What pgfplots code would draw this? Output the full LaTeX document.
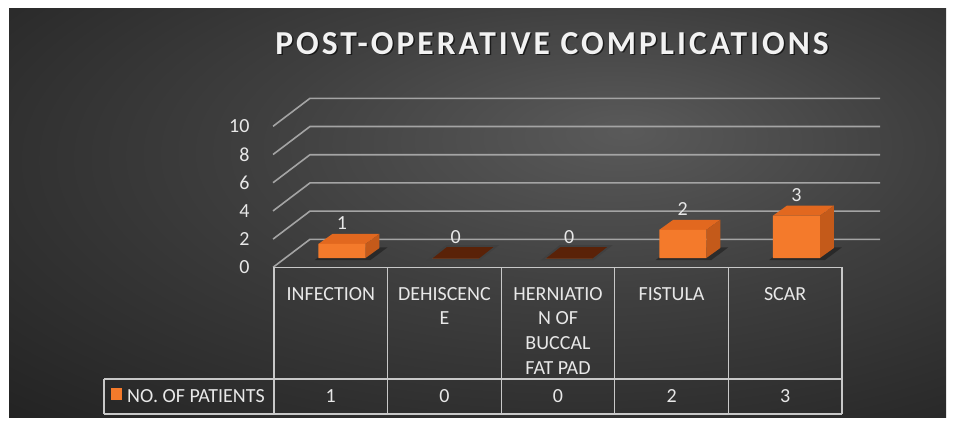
\documentclass[border=0pt]{standalone}
\usepackage{pgfplots}
\pgfplotsset{compat=1.18}
\usepackage{fontspec}
\setmainfont{Carlito}
\newfontfamily\titlefont[LetterSpace=9]{Carlito}
\definecolor{barfront}{HTML}{F47A2B}
\definecolor{bartop}{HTML}{E2681F}
\definecolor{barside}{HTML}{C45A1A}
\definecolor{zerobar}{HTML}{5A2208}
\definecolor{gridc}{HTML}{A4A4A4}
\definecolor{tablec}{HTML}{C8C8C8}
\definecolor{txt}{HTML}{E8E8E8}
\definecolor{bgA}{HTML}{5A5A5A}
\definecolor{bgB}{HTML}{3F3F3F}
\definecolor{bgC}{HTML}{1F1F1F}
\pgfdeclareradialshading{bgshade}{\pgfpoint{8bp}{10bp}}{color(0bp)=(bgA); color(18bp)=(bgB); color(45bp)=(bgC); color(80bp)=(bgC)}
\newcommand\tf{\fontsize{20}{24}\selectfont}
\begin{document}
\begin{tikzpicture}
\begin{axis}[
  x=113.6pt, y=14.1pt,
  xmin=-0.6, xmax=4.8, ymin=-0.7, ymax=12,
  hide axis, clip=false,
  /pgf/number format/assume math mode=true,
]
% page and background
\fill[white] (axis cs:-3.0106,-11.986) rectangle (axis cs:5.3961,18.298);
\shade[shading=bgshade] (axis cs:-2.9313,-11.277) rectangle (axis cs:5.3169,17.730);
% gridlines (back wall) with diagonals to the front
\draw[gridc, line width=1.6pt] (axis cs:-0.607,-0.66) -- (axis cs:-0.2817,1.326) -- (axis cs:4.736,1.326);
\draw[gridc, line width=1.6pt] (axis cs:-0.607,1.34) -- (axis cs:-0.2817,3.326) -- (axis cs:4.736,3.326);
\draw[gridc, line width=1.6pt] (axis cs:-0.607,3.34) -- (axis cs:-0.2817,5.326) -- (axis cs:4.736,5.326);
\draw[gridc, line width=1.6pt] (axis cs:-0.607,5.34) -- (axis cs:-0.2817,7.326) -- (axis cs:4.736,7.326);
\draw[gridc, line width=1.6pt] (axis cs:-0.607,7.34) -- (axis cs:-0.2817,9.326) -- (axis cs:4.736,9.326);
\draw[gridc, line width=1.6pt] (axis cs:-0.607,9.34) -- (axis cs:-0.2817,11.326) -- (axis cs:4.736,11.326);
% y tick labels
\node[anchor=east, text=txt, font=\tf] at (axis cs:-0.7835,-0.66) {0};
\node[anchor=east, text=txt, font=\tf] at (axis cs:-0.7835,1.34) {2};
\node[anchor=east, text=txt, font=\tf] at (axis cs:-0.7835,3.34) {4};
\node[anchor=east, text=txt, font=\tf] at (axis cs:-0.7835,5.34) {6};
\node[anchor=east, text=txt, font=\tf] at (axis cs:-0.7835,7.34) {8};
\node[anchor=east, text=txt, font=\tf] at (axis cs:-0.7835,9.34) {10};
% floor shadows
\addplot[fill=black, fill opacity=0.35, draw=none] coordinates {(-0.24,-0.15) (0.25,-0.15) (0.40,0.75) (-0.10,0.75)};
\addplot[fill=black, fill opacity=0.35, draw=none] coordinates {(2.76,-0.15) (3.25,-0.15) (3.40,0.75) (2.90,0.75)};
\addplot[fill=black, fill opacity=0.35, draw=none] coordinates {(3.76,-0.15) (4.25,-0.15) (4.40,0.75) (3.90,0.75)};
% zero-height bars
\addplot[fill=zerobar, draw=black!75, line width=1.8pt] coordinates {(0.77,-0.1) (1.21,-0.1) (1.36,0.85) (0.92,0.85)} -- cycle;
\addplot[fill=zerobar, draw=black!75, line width=1.8pt] coordinates {(1.77,-0.1) (2.21,-0.1) (2.36,0.85) (1.92,0.85)} -- cycle;
% top and side faces
\addplot[fill=bartop, draw=none] coordinates {(-0.207,1) (0.207,1) (0.330,1.71) (-0.084,1.71)};
\addplot[fill=barside, draw=none] coordinates {(0.207,0) (0.330,0.71) (0.330,1.71) (0.207,1)};
\addplot[fill=bartop, draw=none] coordinates {(2.793,2) (3.207,2) (3.330,2.71) (2.916,2.71)};
\addplot[fill=barside, draw=none] coordinates {(3.207,0) (3.330,0.71) (3.330,2.71) (3.207,2)};
\addplot[fill=bartop, draw=none] coordinates {(3.793,3) (4.207,3) (4.330,3.71) (3.916,3.71)};
\addplot[fill=barside, draw=none] coordinates {(4.207,0) (4.330,0.71) (4.330,3.71) (4.207,3)};
% front faces
\addplot[ybar, bar width=0.414, fill=barfront, draw=none,
  nodes near coords,
  every node near coord/.append style={anchor=center, yshift=21pt, text=txt, font=\tf}]
  coordinates {(0,1) (1,0) (2,0) (3,2) (4,3)};
% data table
\draw[tablec, line width=1.3pt] (axis cs:-0.5986,-0.66) -- (axis cs:4.4014,-0.66);
\draw[tablec, line width=1.3pt] (axis cs:-0.5986,-0.66) -- (axis cs:-0.5986,-11.06);
\draw[tablec, line width=1.3pt] (axis cs:0.4014,-0.66) -- (axis cs:0.4014,-11.06);
\draw[tablec, line width=1.3pt] (axis cs:1.4014,-0.66) -- (axis cs:1.4014,-11.06);
\draw[tablec, line width=1.3pt] (axis cs:2.4014,-0.66) -- (axis cs:2.4014,-11.06);
\draw[tablec, line width=1.3pt] (axis cs:3.4014,-0.66) -- (axis cs:3.4014,-11.06);
\draw[tablec, line width=1.3pt] (axis cs:4.4014,-0.66) -- (axis cs:4.4014,-11.06);
\draw[tablec, line width=1.3pt] (axis cs:-2.095,-8.58) -- (axis cs:4.4014,-8.58);
\draw[tablec, line width=1.3pt] (axis cs:-2.095,-11.06) -- (axis cs:4.4014,-11.06);
\draw[tablec, line width=1.3pt] (axis cs:-2.095,-8.58) -- (axis cs:-2.095,-11.06);
% category names
\node[anchor=base, text=txt, font=\tf] at (axis cs:-0.0986,-2.993) {INFECTION};
\node[anchor=base, text=txt, font=\tf] at (axis cs:0.9014,-2.993) {DEHISCENC};
\node[anchor=base, text=txt, font=\tf] at (axis cs:0.9014,-4.745) {E};
\node[anchor=base, text=txt, font=\tf] at (axis cs:1.9014,-2.993) {HERNIATIO};
\node[anchor=base, text=txt, font=\tf] at (axis cs:1.9014,-4.745) {N OF};
\node[anchor=base, text=txt, font=\tf] at (axis cs:1.9014,-6.496) {BUCCAL};
\node[anchor=base, text=txt, font=\tf] at (axis cs:1.9014,-8.248) {FAT PAD};
\node[anchor=base, text=txt, font=\tf] at (axis cs:2.9014,-2.993) {FISTULA};
\node[anchor=base, text=txt, font=\tf] at (axis cs:3.9014,-2.993) {SCAR};
% data row
\fill[barfront] (axis cs:-2.033,-9.22) rectangle (axis cs:-1.937,-10.07);
\node[anchor=base west, text=txt, font=\tf, inner sep=0pt] at (axis cs:-1.893,-10.23) {NO. OF PATIENTS};
\node[anchor=base, text=txt, font=\tf] at (axis cs:-0.0986,-10.23) {1};
\node[anchor=base, text=txt, font=\tf] at (axis cs:0.9014,-10.23) {0};
\node[anchor=base, text=txt, font=\tf] at (axis cs:1.9014,-10.23) {0};
\node[anchor=base, text=txt, font=\tf] at (axis cs:2.9014,-10.23) {2};
\node[anchor=base, text=txt, font=\tf] at (axis cs:3.9014,-10.23) {3};
% title
\node[anchor=center, text=black, opacity=0.6, font=\titlefont\bfseries\fontsize{33.5}{38}\selectfont] at (axis cs:1.862,15.12) {POST-OPERATIVE COMPLICATIONS};
\node[anchor=center, text=white!95!black, font=\titlefont\bfseries\fontsize{33.5}{38}\selectfont] at (axis cs:1.849,15.23) {POST-OPERATIVE COMPLICATIONS};
\end{axis}
\end{tikzpicture}
\end{document}
